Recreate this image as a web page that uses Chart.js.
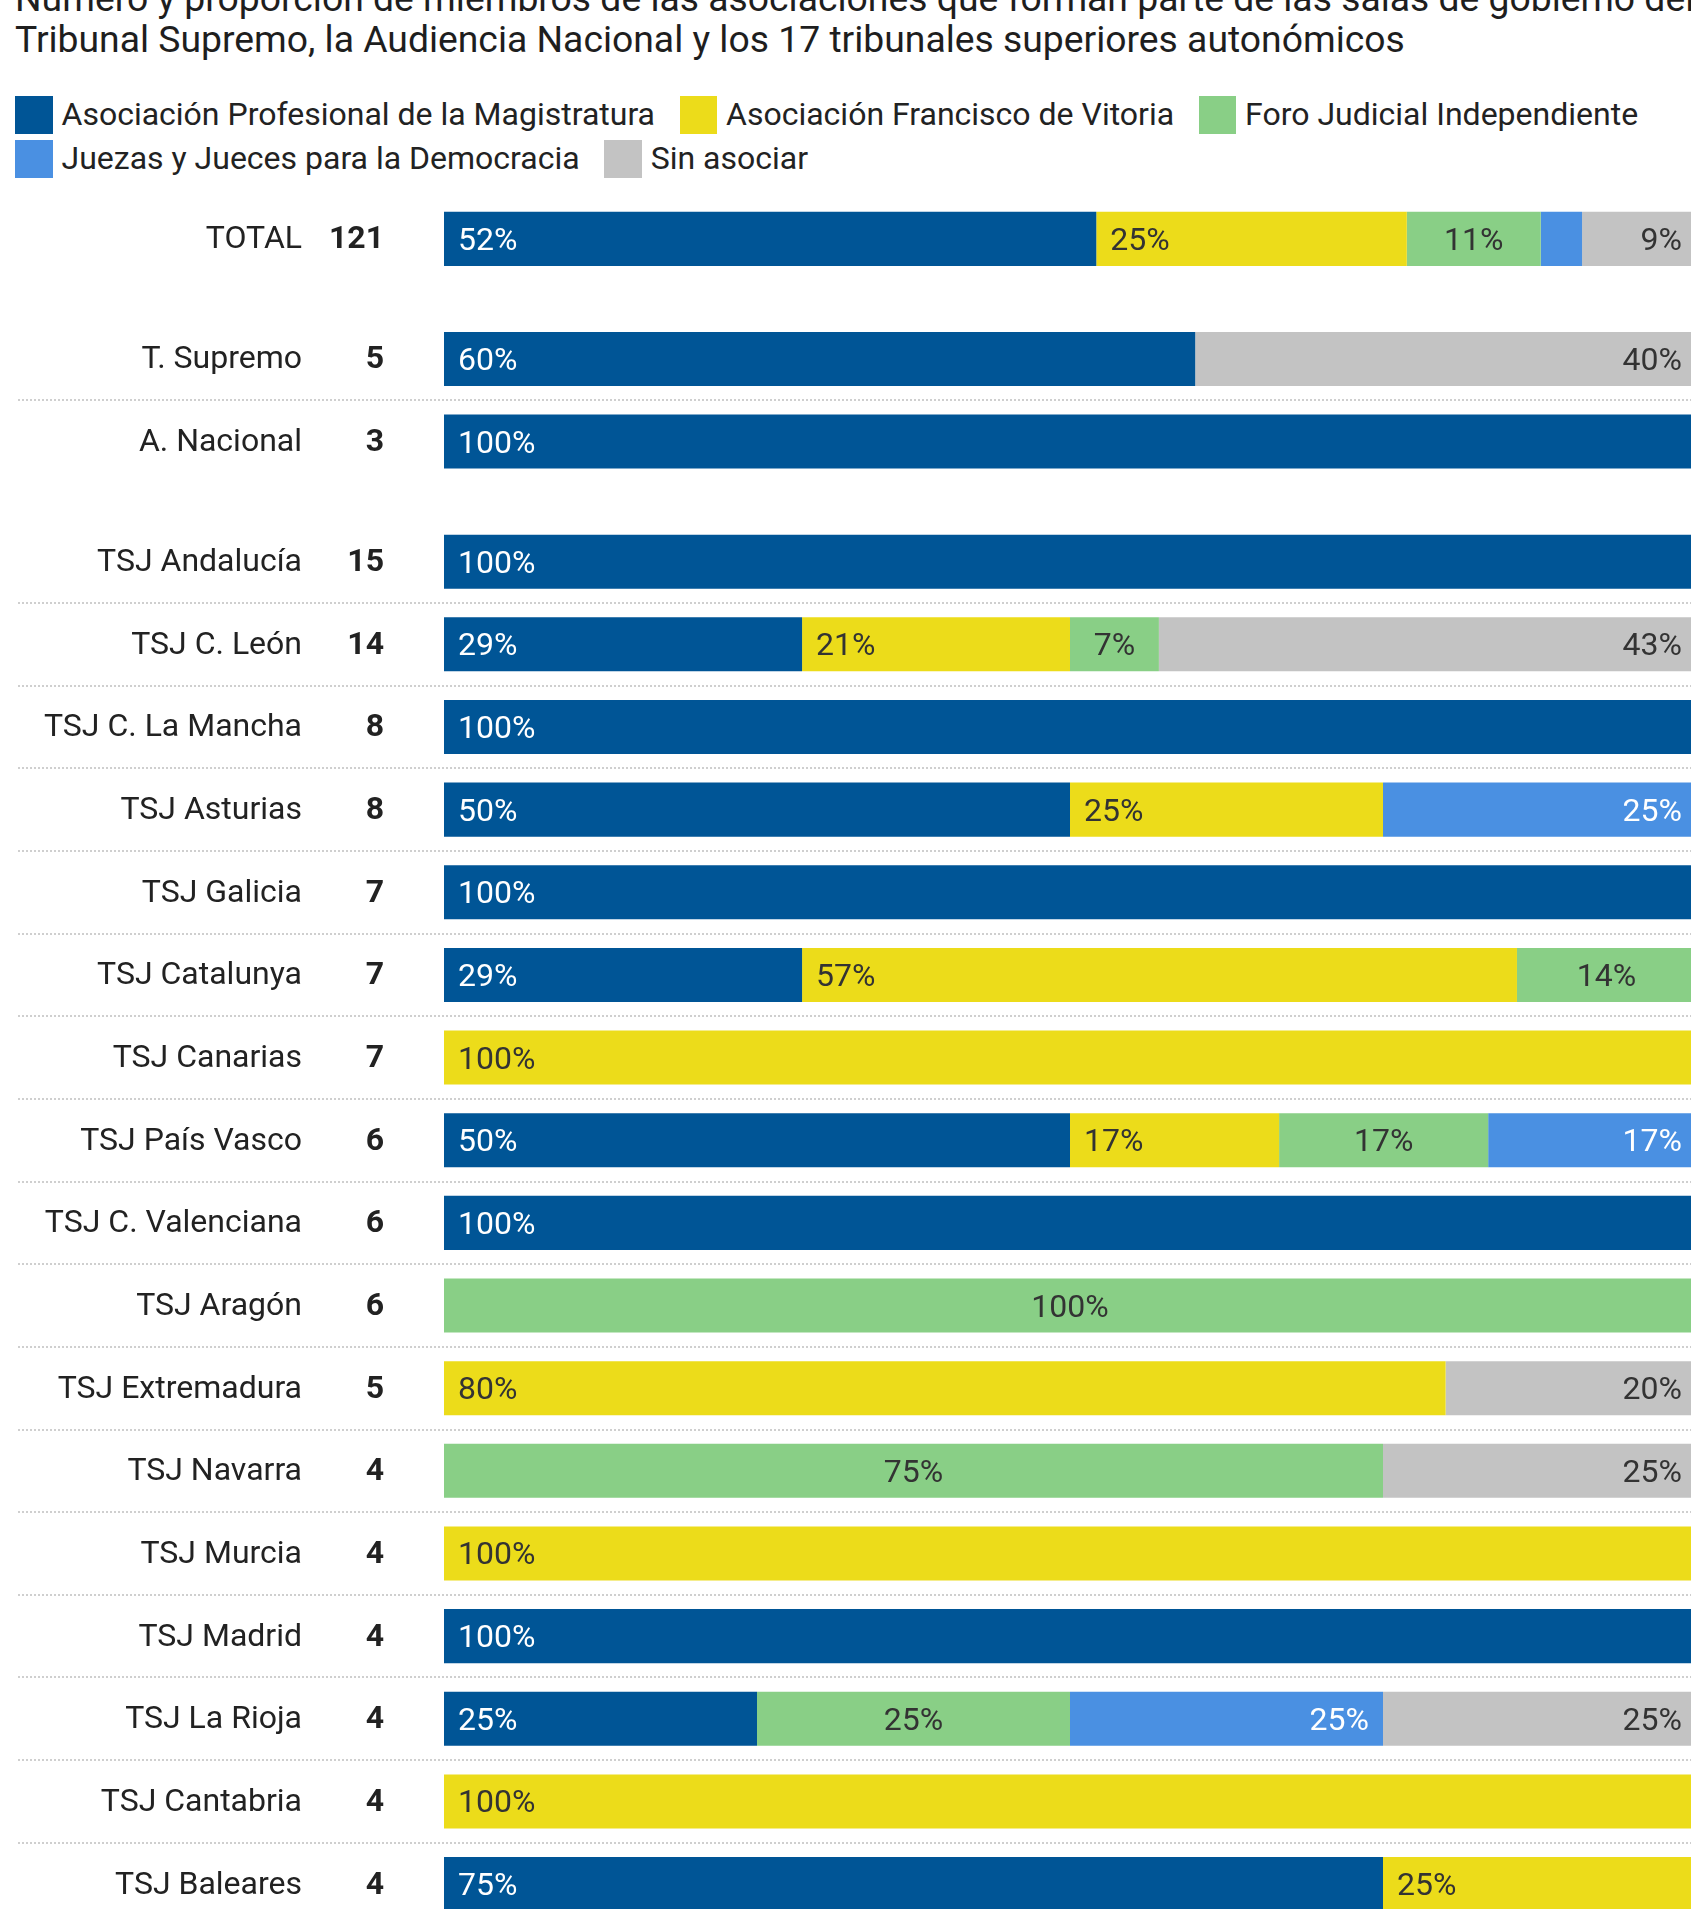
<!DOCTYPE html>
<html lang="es">
<head>
<meta charset="utf-8">
<title>Asociaciones en las salas de gobierno</title>
<script src="https://cdn.jsdelivr.net/npm/chart.js@4/dist/chart.umd.min.js"></script>
<style>
  html, body { margin: 0; padding: 0; background: #fff; overflow: hidden; width: 1691px; height: 1909px; }
  body { position: relative; font-family: Roboto, sans-serif; color: #222; }
  #title { position: absolute; left: 15px; top: -22px; font-size: 37.3px; line-height: 41px; white-space: nowrap; color: #1e1e1e; }
  #legend { position: absolute; left: 15px; top: 96px; width: 1670px; display: flex; flex-wrap: wrap; row-gap: 6.5px; }
  .item { display: flex; align-items: center; height: 37.5px; margin-right: 24.5px; font-size: 32px; line-height: 37.5px; white-space: nowrap; }
  .swatch { width: 37.5px; height: 37.5px; margin-right: 9px; flex: none; }
  #wrap { position: absolute; left: 0; top: 181px; width: 1696px; height: 1745px; }
</style>
</head>
<body>
<div id="title">Número y proporción de miembros de las asociaciones que forman parte de las salas de gobierno del<br>Tribunal Supremo, la Audiencia Nacional y los 17 tribunales superiores autonómicos</div>
<div id="legend"></div>
<div id="wrap"><canvas id="chart"></canvas></div>
<script>
// Rows of the chart (TOTAL, national courts, regional courts)
const rowNames = ['TOTAL', 'T. Supremo', 'A. Nacional', 'TSJ Andalucía', 'TSJ C. León', 'TSJ C. La Mancha',
    'TSJ Asturias', 'TSJ Galicia', 'TSJ Catalunya', 'TSJ Canarias', 'TSJ País Vasco', 'TSJ C. Valenciana',
    'TSJ Aragón', 'TSJ Extremadura', 'TSJ Navarra', 'TSJ Murcia', 'TSJ Madrid', 'TSJ La Rioja',
    'TSJ Cantabria', 'TSJ Baleares'];
const rowCounts = [121, 5, 3, 15, 14, 8, 8, 7, 7, 7, 6, 6, 6, 5, 4, 4, 4, 4, 4, 4];
const rowGroups = [0, 1, 1, 2, 2, 2, 2, 2, 2, 2, 2, 2, 2, 2, 2, 2, 2, 2, 2, 2];

const associations = ['Asociación Profesional de la Magistratura', 'Asociación Francisco de Vitoria',
    'Foro Judicial Independiente', 'Juezas y Jueces para la Democracia', 'Sin asociar'];

// Share of members (%) per row
const apm = [52.1, 60, 100, 100, 28.6, 100, 50, 100, 28.6, 0, 50, 100, 0, 0, 0, 0, 100, 25, 0, 75];
const afv = [24.8, 0, 0, 0, 21.4, 0, 25, 0, 57.1, 100, 16.7, 0, 0, 80, 0, 100, 0, 0, 100, 25];
const fji = [10.7, 0, 0, 0, 7.1, 0, 0, 0, 14.3, 0, 16.7, 0, 100, 0, 75, 0, 0, 25, 0, 0];
const jjd = [3.3, 0, 0, 0, 0, 0, 25, 0, 0, 0, 16.6, 0, 0, 0, 0, 0, 0, 25, 0, 0];
const sinAsociar = [9.1, 40, 0, 0, 42.9, 0, 0, 0, 0, 0, 0, 0, 0, 20, 25, 0, 0, 25, 0, 0];

const seriesValues = [apm, afv, fji, jjd, sinAsociar];

// Styles
const colors = ['#005596', '#ecdc1a', '#89cf86', '#4a90e2', '#c3c3c3'];
const labelColors = ['#ffffff', '#333333', '#333333', '#ffffff', '#333333'];
const labelAlign = ['left', 'left', 'center', 'right', 'right'];
const groupGap = 0.453;

Chart.defaults.font.family = 'Roboto';

// Legend
const legend = document.getElementById('legend');
associations.forEach((name, i) => {
    const item = document.createElement('div');
    item.className = 'item';
    item.innerHTML = '<span class="swatch" style="background:' + colors[i] + '"></span>' + name;
    legend.appendChild(item);
});

// Row positions on the y axis, extra space between groups
const rowPos = rowNames.map((n, i) => i + rowGroups[i] * groupGap);

// Build floating segments from cumulative shares
const cumulative = rowNames.map(() => 0);
const datasets = seriesValues.map((vals, d) => {
    const data = [];
    vals.forEach((v, i) => {
        const start = cumulative[i];
        cumulative[i] += v;
        if (v > 0) data.push({ x: [start, start + v], y: rowPos[i], v: v });
    });
    return {
        label: associations[d],
        data: data,
        backgroundColor: colors[d],
        borderWidth: 0,
        grouped: false,
        categoryPercentage: 1,
        barPercentage: 0.654
    };
});

// Dotted separators between rows of the same group
const separators = {
    id: 'separators',
    beforeDatasetsDraw(chart) {
        const ctx = chart.ctx;
        const y = chart.scales.y;
        ctx.save();
        ctx.strokeStyle = '#cfcfcf';
        ctx.lineWidth = 2;
        ctx.setLineDash([2, 2]);
        for (let i = 0; i < rowPos.length - 1; i++) {
            if (rowGroups[i] !== rowGroups[i + 1]) continue;
            const py = Math.round((y.getPixelForValue(rowPos[i]) + y.getPixelForValue(rowPos[i + 1])) / 2);
            ctx.beginPath();
            ctx.moveTo(18, py);
            ctx.lineTo(chart.width, py);
            ctx.stroke();
        }
        ctx.restore();
    }
};

// Percentage labels inside the segments
const segmentLabels = {
    id: 'segmentLabels',
    afterDatasetsDraw(chart) {
        const ctx = chart.ctx;
        const pad = 14;
        ctx.save();
        ctx.font = '32px Roboto';
        ctx.textBaseline = 'alphabetic';
        chart.data.datasets.forEach((ds, d) => {
            const meta = chart.getDatasetMeta(d);
            meta.data.forEach((bar, j) => {
                const p = bar.getProps(['x', 'y', 'base'], true);
                const left = Math.min(p.x, p.base);
                const right = Math.max(p.x, p.base);
                const text = Math.round(ds.data[j].v) + '%';
                const tw = ctx.measureText(text).width;
                if (tw + pad * 2 > right - left) return;
                ctx.fillStyle = labelColors[d];
                ctx.textAlign = labelAlign[d];
                let tx = left + pad;
                if (labelAlign[d] === 'center') tx = (left + right) / 2;
                if (labelAlign[d] === 'right') tx = right - pad;
                ctx.fillText(text, tx, p.y + 11);
            });
        });
        ctx.restore();
    }
};

const yBase = {
    type: 'linear',
    position: 'left',
    reverse: true,
    offset: false,
    min: -0.7,
    max: 20.413,
    bounds: 'data',
    grid: { display: false, drawTicks: false, offset: false },
    border: { display: false }
};

// Fixed axis width, no extra vertical padding from the tick labels
const fitAxis = (width) => (scale) => {
    scale.width = width;
    scale.paddingTop = 0;
    scale.paddingBottom = 0;
};

new Chart(document.getElementById('chart'), {
    type: 'bar',
    data: { datasets: datasets },
    options: {
        indexAxis: 'y',
        responsive: true,
        maintainAspectRatio: false,
        animation: false,
        events: [],
        layout: { padding: 0 },
        plugins: { legend: { display: false }, tooltip: { enabled: false } },
        scales: {
            x: { type: 'linear', min: 0, max: 100, display: false },
            y: Object.assign({}, yBase, {
                weight: 10,
                ticks: { autoSkip: false, padding: 0, labelOffset: 1.5, color: '#222', font: { size: 32 },
                    callback: (value, index) => rowNames[index] },
                afterBuildTicks: (scale) => { scale.ticks = rowPos.map(v => ({ value: v })); },
                afterFit: fitAxis(302)
            }),
            yn: Object.assign({}, yBase, {
                weight: 0,
                ticks: { autoSkip: false, padding: 60, labelOffset: 1.5, color: '#222', font: { size: 32, weight: 'bold' },
                    callback: (value, index) => rowCounts[index] },
                afterBuildTicks: (scale) => { scale.ticks = rowPos.map(v => ({ value: v })); },
                afterFit: fitAxis(142)
            })
        }
    },
    plugins: [separators, segmentLabels]
});
</script>
</body>
</html>
